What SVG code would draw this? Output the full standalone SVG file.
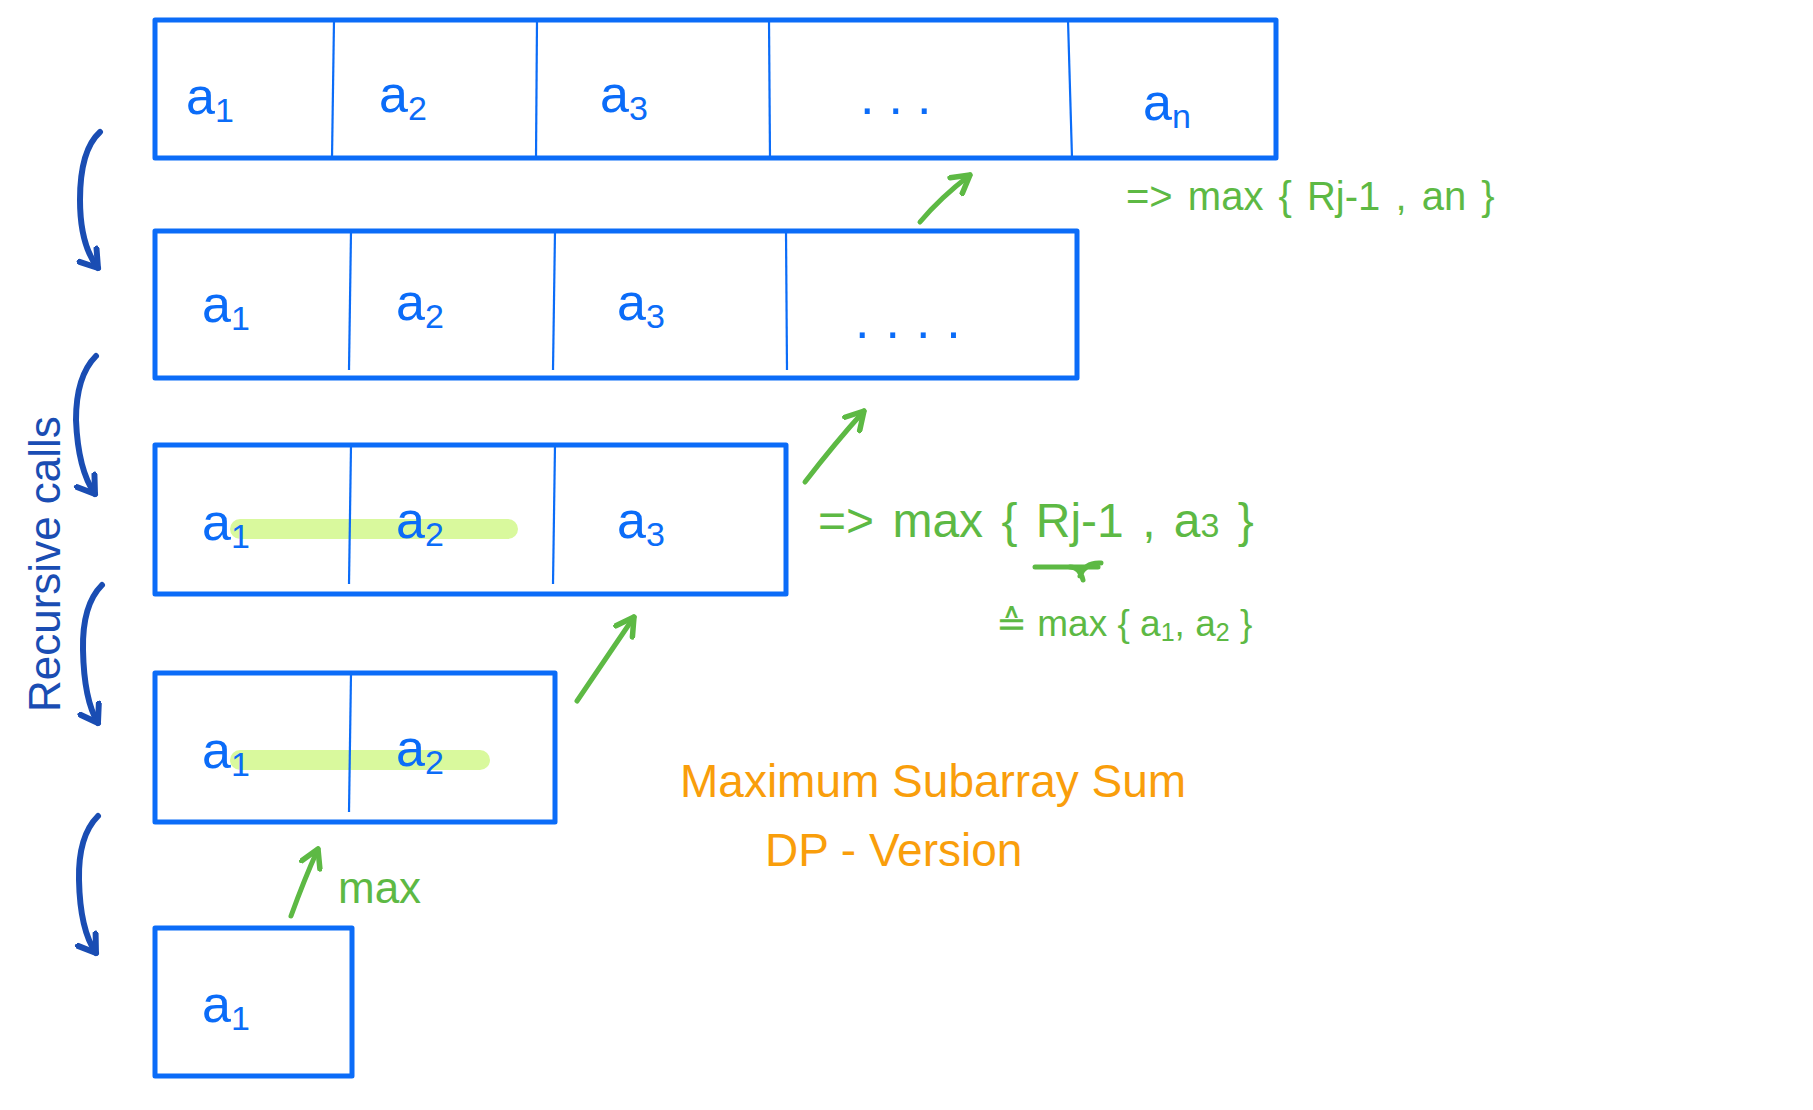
<svg xmlns="http://www.w3.org/2000/svg" width="1813" height="1110" viewBox="0 0 1813 1110">
<defs>
<style>
.box{fill:none;stroke:#0b6cf8;stroke-width:5;stroke-linejoin:round}
.div{stroke:#0b6cf8;stroke-width:2.2;fill:none}
.lbl{font-family:"Liberation Sans",Arial,sans-serif;font-size:52px;fill:#0b6cf8}
.sub{font-size:34px}
.hl{stroke:#d9f99d;stroke-width:20;stroke-linecap:round;fill:none}
.g{font-family:"Liberation Sans",Arial,sans-serif;fill:#5db944}
.garr{stroke:#5db944;stroke-width:5;fill:none;stroke-linecap:round;stroke-linejoin:round}
.barr{stroke:#1a4db3;stroke-width:6;fill:none;stroke-linecap:round;stroke-linejoin:round}
.o{font-family:"Liberation Sans",Arial,sans-serif;fill:#f99e0b;font-size:46px}
</style>
<marker id="gh" viewBox="0 0 10 10" refX="8" refY="5" markerWidth="5" markerHeight="5" orient="auto" markerUnits="strokeWidth">
<path d="M1,1 L8,5 L1,9" fill="none" stroke="#5db944" stroke-width="2.2" stroke-linecap="round" stroke-linejoin="round"/>
</marker>
<marker id="bh" viewBox="0 0 10 10" refX="7" refY="5" markerWidth="4.5" markerHeight="4.5" orient="auto" markerUnits="strokeWidth">
<path d="M1,1 L7,5 L1,9" fill="none" stroke="#1a4db3" stroke-width="2.2" stroke-linecap="round" stroke-linejoin="round"/>
</marker>
</defs>
<rect width="1813" height="1110" fill="#ffffff"/>

<g id="highlights">
<line class="hl" x1="240" y1="529" x2="508" y2="529"/>
<line class="hl" x1="240" y1="760" x2="480" y2="760"/>
</g>

<g id="row1">
<rect class="box" x="155" y="20" width="1121" height="138"/>
<line class="div" x1="334" y1="20" x2="332" y2="158"/>
<line class="div" x1="537" y1="20" x2="536" y2="158"/>
<line class="div" x1="769" y1="20" x2="770" y2="158"/>
<line class="div" x1="1068" y1="20" x2="1072" y2="158"/>
<text class="lbl" x="186" y="114">a<tspan class="sub" dy="8">1</tspan></text>
<text class="lbl" x="379" y="112">a<tspan class="sub" dy="8">2</tspan></text>
<text class="lbl" x="600" y="112">a<tspan class="sub" dy="8">3</tspan></text>
<text class="lbl" x="860" y="114" font-size="44" letter-spacing="14">...</text>
<text class="lbl" x="1143" y="120">a<tspan class="sub" dy="8">n</tspan></text>
</g>

<g id="row2">
<rect class="box" x="155" y="231" width="922" height="147"/>
<line class="div" x1="351" y1="231" x2="349" y2="370"/>
<line class="div" x1="555" y1="231" x2="553" y2="370"/>
<line class="div" x1="786" y1="231" x2="787" y2="370"/>
<text class="lbl" x="202" y="322">a<tspan class="sub" dy="8">1</tspan></text>
<text class="lbl" x="396" y="320">a<tspan class="sub" dy="8">2</tspan></text>
<text class="lbl" x="617" y="320">a<tspan class="sub" dy="8">3</tspan></text>
<text class="lbl" x="855" y="338" font-size="22" letter-spacing="16">....</text>
</g>

<g id="row3">
<rect class="box" x="155" y="445" width="631" height="149"/>
<line class="div" x1="351" y1="445" x2="349" y2="584"/>
<line class="div" x1="555" y1="445" x2="553" y2="584"/>
<text class="lbl" x="202" y="540">a<tspan class="sub" dy="8">1</tspan></text>
<text class="lbl" x="396" y="538">a<tspan class="sub" dy="8">2</tspan></text>
<text class="lbl" x="617" y="538">a<tspan class="sub" dy="8">3</tspan></text>
</g>

<g id="row4">
<rect class="box" x="155" y="673" width="400" height="149"/>
<line class="div" x1="351" y1="673" x2="349" y2="812"/>
<text class="lbl" x="202" y="768">a<tspan class="sub" dy="8">1</tspan></text>
<text class="lbl" x="396" y="766">a<tspan class="sub" dy="8">2</tspan></text>
</g>

<g id="row5">
<rect class="box" x="155" y="928" width="197" height="148"/>
<text class="lbl" x="202" y="1022">a<tspan class="sub" dy="8">1</tspan></text>
</g>

<g id="connectors">
<path class="garr" d="M920,222 Q940,198 970,175" marker-end="url(#gh)"/>
<path class="garr" d="M805,482 Q835,443 864,411" marker-end="url(#gh)"/>
<path class="garr" d="M577,701 Q606,658 634,617" marker-end="url(#gh)"/>
<path class="garr" d="M291,916 Q304,880 318,849" marker-end="url(#gh)"/>
<path class="barr" d="M100,132 Q80,150 80,200 Q80,245 98,268" marker-end="url(#bh)"/>
<path class="barr" d="M96,356 Q76,376 76,420 Q78,470 95,494" marker-end="url(#bh)"/>
<path class="barr" d="M102,585 Q82,605 83,650 Q84,700 98,723" marker-end="url(#bh)"/>
<path class="barr" d="M98,816 Q78,836 79,880 Q80,930 96,953" marker-end="url(#bh)"/>
<path class="garr" d="M1035,567 L1098,567" stroke-width="2.5"/>
<path class="garr" d="M1070,567 Q1080,567 1083,580 M1080,576 Q1085,562 1101,563" stroke-width="2.5"/>
</g>

<g id="annotations">
<text class="g" x="338" y="903" font-size="44">max</text>
<text class="g" x="1126" y="210" font-size="40" word-spacing="4">=&gt; max { Rj-1 , an }</text>
<text class="g" x="818" y="537" font-size="48" word-spacing="5">=&gt; max { Rj-1 , a<tspan font-size="34">3</tspan> }</text>
<text class="g" x="996" y="636" font-size="37">≙ max { a<tspan font-size="25" dy="5">1</tspan><tspan dy="-5">, a</tspan><tspan font-size="25" dy="5">2</tspan><tspan dy="-5"> }</tspan></text>
<text class="o" x="680" y="797">Maximum Subarray Sum</text>
<text class="o" x="765" y="866">DP - Version</text>
<text font-family="'Liberation Sans',Arial,sans-serif" font-size="44" fill="#1a4db3" transform="translate(60,712) rotate(-90)">Recursive calls</text>
</g>
</svg>
